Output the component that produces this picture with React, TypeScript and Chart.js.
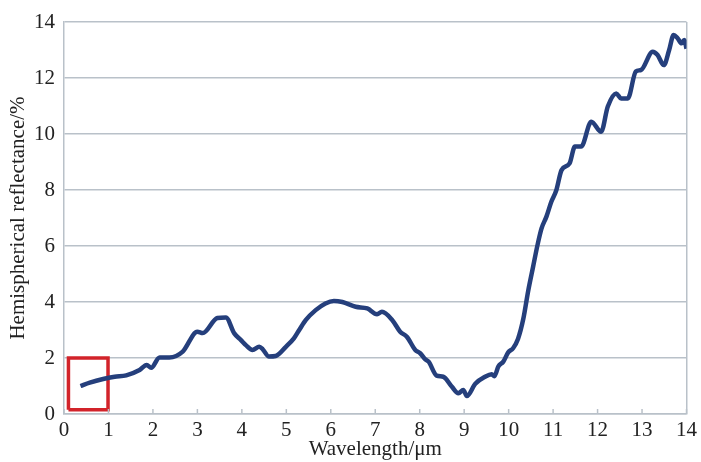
import React, { useEffect, useRef } from "react";
import { Chart, registerables } from "chart.js";

Chart.register(...registerables);

const wavelength = [
  0.37, 0.58, 0.88, 1.14, 1.4, 1.7, 1.86, 1.96, 2.15, 2.37, 2.67, 3.0, 3.12, 3.45, 3.64,
  3.83, 3.98, 4.09, 4.24, 4.39, 4.47, 4.61, 4.76, 4.99, 5.17, 5.29, 5.44, 5.66, 5.88, 6.07,
  6.26, 6.56, 6.82, 7.04, 7.15, 7.38, 7.56, 7.71, 7.9, 8.01, 8.12, 8.2, 8.38, 8.53, 8.72,
  8.87, 8.98, 9.06, 9.25, 9.47, 9.62, 9.68, 9.77, 9.88, 9.99, 10.1, 10.21, 10.33, 10.44,
  10.55, 10.65, 10.74, 10.85, 10.96, 11.07, 11.19, 11.37, 11.49, 11.63, 11.86, 12.08,
  12.23, 12.42, 12.53, 12.68, 12.86, 12.98, 13.24, 13.35, 13.49, 13.61, 13.71, 13.8,
  13.89, 13.95, 14.0,
];
const reflectance = [
  1.0, 1.12, 1.25, 1.33, 1.38, 1.57, 1.75, 1.65, 2.02, 2.02, 2.23, 2.94, 2.89, 3.43, 3.45,
  2.88, 2.64, 2.46, 2.29, 2.4, 2.31, 2.05, 2.07, 2.4, 2.7, 3.0, 3.36, 3.71, 3.95, 4.04,
  4.0, 3.83, 3.77, 3.56, 3.65, 3.36, 2.94, 2.76, 2.29, 2.17, 1.96, 1.87, 1.37, 1.33, 0.98,
  0.74, 0.86, 0.64, 1.08, 1.33, 1.42, 1.35, 1.7, 1.87, 2.2, 2.35, 2.68, 3.4, 4.4, 5.26,
  6.04, 6.63, 7.05, 7.58, 7.98, 8.71, 8.95, 9.55, 9.55, 10.44, 10.08, 10.98, 11.45, 11.27,
  11.27, 12.23, 12.29, 12.94, 12.82, 12.46, 13.0, 13.54, 13.42, 13.24, 13.36, 13.05,
];

const boxX = [0.1, 0.99, 0.99, 0.1, 0.1];
const boxY = [0.15, 0.15, 2.0, 2.0, 0.15];

const xTicks = [0, 1, 2, 3, 4, 5, 6, 7, 8, 9, 10, 11, 12, 13, 14];
const yTicks = [0, 2, 4, 6, 8, 10, 12, 14];

const GRID = "#b9c1c9";
const FONT = "'Liberation Serif', 'Times New Roman', serif";

const innerTicks = {
  id: "innerTicks",
  afterDatasetsDraw(chart: any) {
    const { ctx, scales, chartArea } = chart;
    const xs = scales.x;
    ctx.save();
    ctx.strokeStyle = GRID;
    ctx.lineWidth = 1.5;
    xTicks.forEach((t) => {
      const px = xs.getPixelForValue(t);
      ctx.beginPath();
      ctx.moveTo(px, chartArea.bottom);
      ctx.lineTo(px, chartArea.bottom - 5);
      ctx.stroke();
    });
    ctx.restore();
  },
};

export default function App() {
  const ref = useRef<HTMLCanvasElement | null>(null);
  useEffect(() => {
    if (!ref.current) return;
    const chart = new Chart(ref.current, {
      type: "line",
      data: {
        datasets: [
          {
            data: wavelength.map((x, i) => ({ x, y: reflectance[i] })),
            borderColor: "#253f7c",
            borderWidth: 4.5,
            pointRadius: 0,
            tension: 0.4,
            cubicInterpolationMode: "monotone",
            fill: false,
          },
          {
            data: boxX.map((x, i) => ({ x, y: boxY[i] })),
            borderColor: "#d2232a",
            borderWidth: 3.5,
            pointRadius: 0,
            tension: 0,
            fill: false,
          },
        ],
      },
      plugins: [innerTicks],
      options: {
        animation: false,
        responsive: false,
        maintainAspectRatio: false,
        layout: { padding: { top: 22, right: 12, left: 0, bottom: 0 } },
        plugins: { legend: { display: false }, tooltip: { enabled: false } },
        scales: {
          x: {
            type: "linear",
            min: 0,
            max: 14,
            afterBuildTicks: (s: any) => {
              s.ticks = xTicks.map((v) => ({ value: v }));
            },
            afterFit: (s: any) => {
              s.height = 48;
            },
            grid: {
              drawTicks: false,
              color: (c: any) => (c.tick && c.tick.value === 14 ? GRID : "rgba(0,0,0,0)"),
              lineWidth: 1.5,
            },
            border: { display: true, color: GRID, width: 1.5 },
            ticks: {
              color: "#222",
              font: { family: FONT, size: 21 },
              padding: 4,
              maxRotation: 0,
              autoSkip: false,
            },
            title: {
              display: true,
              text: "Wavelength/μm",
              color: "#222",
              font: { family: FONT, size: 21 },
              padding: { top: 0, bottom: 0 },
            },
          },
          y: {
            type: "linear",
            min: 0,
            max: 14,
            afterBuildTicks: (s: any) => {
              s.ticks = yTicks.map((v) => ({ value: v }));
            },
            afterFit: (s: any) => {
              s.width = 64;
            },
            grid: { drawTicks: false, color: GRID, lineWidth: 1.5 },
            border: { display: true, color: GRID, width: 1.5 },
            ticks: {
              color: "#222",
              font: { family: FONT, size: 21 },
              padding: 9,
            },
            title: {
              display: true,
              text: "Hemispherical reflectance/%",
              color: "#222",
              font: { family: FONT, size: 21 },
              padding: { top: 6, bottom: 0 },
            },
          },
        },
      },
    } as any);
    return () => chart.destroy();
  }, []);
  return (
    <div style={{ position: "fixed", left: 0, top: 0, width: 701, height: 462, background: "#fff" }}>
      <canvas ref={ref} width={701} height={462} style={{ width: 701, height: 462, display: "block" }} />
    </div>
  );
}
